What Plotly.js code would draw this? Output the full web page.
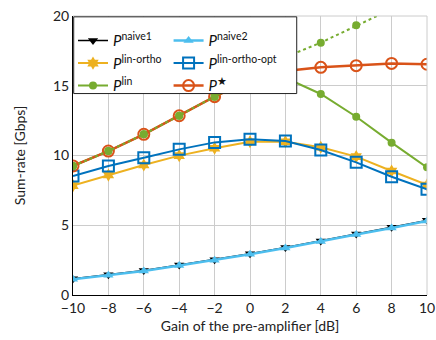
<!DOCTYPE html>
<html>
<head>
<meta charset="utf-8">
<script src="https://cdn.plot.ly/plotly-3.0.1.min.js"></script>
<style>html,body{margin:0;padding:0;background:#fff}#c{width:436px;height:340px}</style>
</head>
<body>
<div id="c"></div>
<script>
const gain = [-10, -8, -6, -4, -2, 0, 2, 4, 6, 8, 10];
const naive1 = [1.17, 1.45, 1.76, 2.15, 2.53, 2.96, 3.41, 3.87, 4.37, 4.85, 5.35];
const naive2 = [1.13, 1.41, 1.72, 2.11, 2.49, 2.92, 3.37, 3.83, 4.33, 4.81, 5.31];
const linOrtho = [7.84, 8.6, 9.32, 9.99, 10.52, 10.99, 10.99, 10.59, 9.92, 8.89, 7.89];
const linOrthoOpt = [8.53, 9.25, 9.84, 10.44, 10.94, 11.16, 11.04, 10.39, 9.51, 8.48, 7.58];
const linVals = [9.25, 10.32, 11.52, 12.85, 14.22, 15.4, 15.57, 14.41, 12.78, 10.92, 9.15];
const linUnc = [9.25, 10.32, 11.52, 12.85, 14.22, 15.6, 17.05, 18.09, 19.33, 20.55, 21.7];
const pStar = [9.25, 10.32, 11.52, 12.85, 14.22, 15.4, 16.05, 16.32, 16.44, 16.6, 16.54];

const names = ['<i>P</i><sup>naive1</sup>', '<i>P</i><sup>naive2</sup>', '<i>P</i><sup>lin-ortho</sup>',
  '<i>P</i><sup>lin-ortho-opt</sup>', '<i>P</i><sup>lin</sup>', '<i>P</i><sup>\u2605</sup>'];

const traces = [
  {x: gain, y: naive1, name: names[0], legend: 'legend', mode: 'lines+markers',
   line: {color: '#000000', width: 1.5}, marker: {symbol: 'triangle-down', size: 9, color: '#000000'}},
  {x: gain, y: naive2, name: names[1], legend: 'legend2', mode: 'lines+markers',
   line: {color: '#4DBEEE', width: 2.5}, marker: {symbol: 'triangle-up', size: 9, color: '#4DBEEE'}},
  {x: gain, y: linOrtho, name: names[2], legend: 'legend', mode: 'lines+markers',
   line: {color: '#EDB120', width: 2}, marker: {symbol: 'hexagram', size: 10, color: '#EDB120'}},
  {x: gain, y: linOrthoOpt, name: names[3], legend: 'legend2', mode: 'lines+markers',
   line: {color: '#0072BD', width: 2}, marker: {symbol: 'square-open', size: 11, color: '#0072BD', line: {width: 2, color: '#0072BD'}}},
  {x: gain, y: linVals, name: names[4], legend: 'legend', mode: 'lines+markers',
   line: {color: '#77AC30', width: 2}, marker: {symbol: 'circle', size: 8, color: '#77AC30'}},
  {x: gain, y: pStar, name: names[5], legend: 'legend2', mode: 'lines+markers',
   line: {color: '#D95319', width: 2.5}, marker: {symbol: 'circle-open', size: 11, color: '#D95319', line: {width: 2, color: '#D95319'}}},
  {x: gain, y: linUnc, name: 'lin-unc', showlegend: false, mode: 'lines+markers',
   line: {color: '#77AC30', width: 2, dash: 'dot'}, marker: {symbol: 'circle', size: 8, color: '#77AC30'}}
];

const legFont = {size: 15, family: 'Lato, sans-serif', color: '#111'};
const layout = {
  width: 436, height: 340,
  margin: {l: 73, r: 9, t: 16, b: 45},
  paper_bgcolor: '#fff', plot_bgcolor: '#fff',
  font: {family: 'Lato, sans-serif', size: 14, color: '#222'},
  showlegend: true,
  xaxis: {
    range: [-10, 10], tickvals: gain, ticks: '', showgrid: true, gridcolor: '#cccccc', gridwidth: 1,
    showline: true, linecolor: '#000', linewidth: 1, zeroline: false, mirror: false,
    tickfont: {size: 14},
    title: {text: 'Gain of the pre-amplifier [dB]', font: {size: 14}, standoff: 6}
  },
  yaxis: {
    range: [0, 20], tickvals: [0, 5, 10, 15, 20], ticks: '', showgrid: true, gridcolor: '#cccccc',
    showline: true, linecolor: '#000', linewidth: 1, zeroline: false,
    tickfont: {size: 14},
    title: {text: 'Sum-rate [Gbps]', font: {size: 14}, standoff: 24}
  },
  legend: {
    x: 0, y: 0.97, xanchor: 'left', yanchor: 'top', orientation: 'v',
    bgcolor: 'rgba(0,0,0,0)', borderwidth: 0, font: legFont, tracegroupgap: 0
  },
  legend2: {
    x: 0.27, y: 0.97, xanchor: 'left', yanchor: 'top', orientation: 'v',
    bgcolor: 'rgba(0,0,0,0)', borderwidth: 0, font: legFont, tracegroupgap: 0
  },
  shapes: [
    {type: 'line', xref: 'paper', yref: 'paper', x0: 0, x1: 1, y0: 1, y1: 1, line: {color: '#cccccc', width: 1}},
    {type: 'line', xref: 'paper', yref: 'paper', x0: 1, x1: 1, y0: 0, y1: 1, line: {color: '#cccccc', width: 1}},
    {type: 'rect', xref: 'paper', yref: 'paper', layer: 'above', x0: 0.002, x1: 0.632, y0: 0.722, y1: 0.997,
     fillcolor: '#fff', line: {color: '#222', width: 1}}
  ]
};

Plotly.newPlot('c', traces, layout, {displayModeBar: false, staticPlot: true});
</script>
</body>
</html>
